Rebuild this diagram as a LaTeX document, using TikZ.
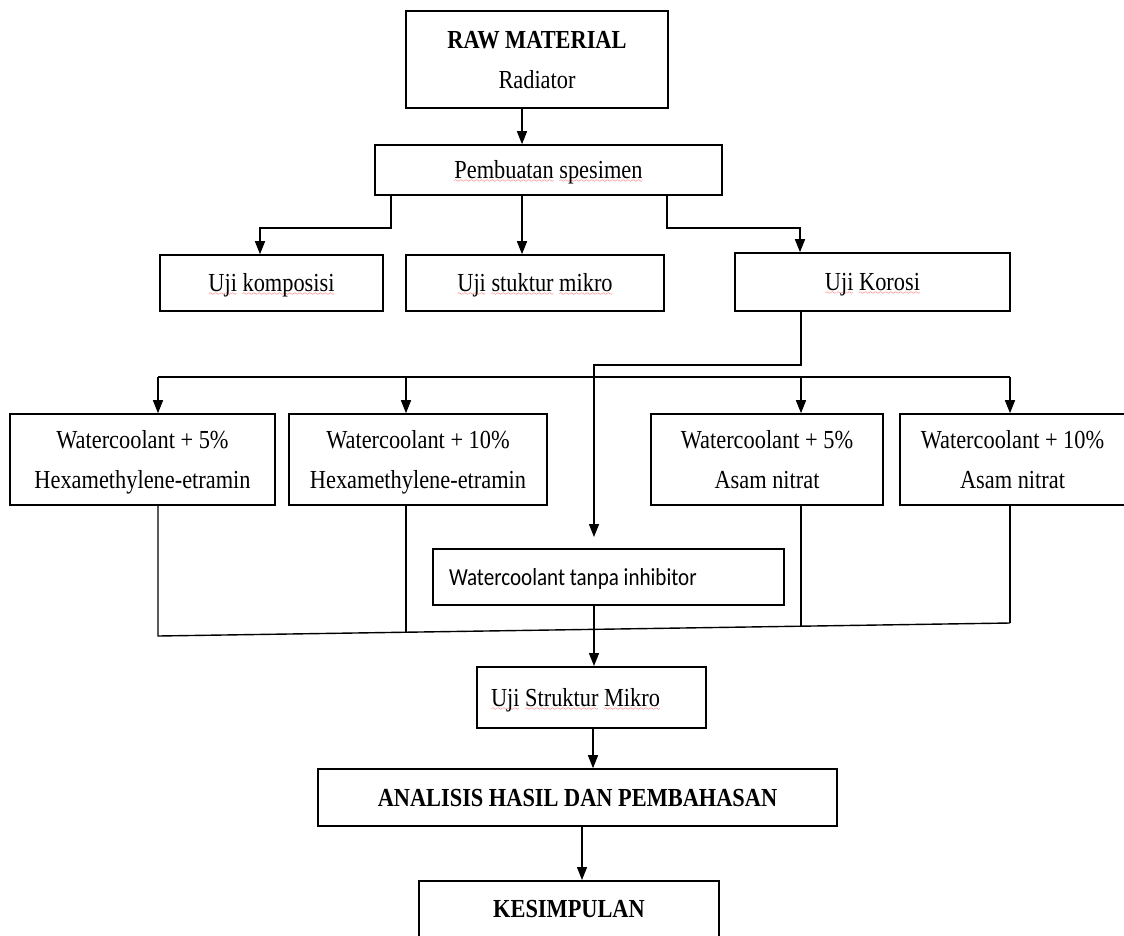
\documentclass[tikz,border=0pt]{standalone}
\usepackage{fontspec}
\setmainfont{Liberation Serif}[FakeStretch=0.86]
\newfontfamily\calib{Carlito}[FakeStretch=0.86]
\usetikzlibrary{arrows.meta}
\font\wavefont=lasy6
\newcommand\spell[1]{\setbox0\hbox{#1}\hbox{\rlap{\lower4pt\hbox to\wd0{\color{red}\xleaders\hbox{\wavefont\char58}\hfil}}\box0}}
\tikzset{
  txt/.style={font=\fontsize{26}{40}\selectfont},
  box/.style={txt, draw=black, line width=1.6pt, rectangle, inner sep=0pt, align=center,
    text height=17pt, text depth=0pt},
  box2/.style={box, text height=57pt},
  lbox/.style={box, align=flush left, inner xsep=16pt},
  conn/.style={draw=black, line width=1.4pt},
  arr/.style={conn, -{Triangle[length=13pt,width=10pt]}},
}
\begin{document}
\begin{tikzpicture}[x=1pt,y=-1pt]
\useasboundingbox (0,0) rectangle (1124,935);
\clip (0,0) rectangle (1124,935);
\fill[white] (0,0) rectangle (1124,935);

% nodes
\node[box2, minimum width=262pt, minimum height=97pt] (raw) at (537,59.5)
  {\textbf{RAW MATERIAL}\\Radiator};
\node[box, minimum width=347pt, minimum height=50pt] (pemb) at (548.5,170)
  {\spell{Pembuatan} \spell{spesimen}};
\node[box, minimum width=223pt, minimum height=56pt] (kom) at (271.5,283)
  {\spell{Uji} \spell{komposisi}};
\node[box, minimum width=258pt, minimum height=56pt] (stm) at (535,283)
  {\spell{Uji} \spell{stuktur} \spell{mikro}};
\node[box, minimum width=275pt, minimum height=58pt] (kor) at (872.5,282)
  {\spell{Uji} \spell{Korosi}};
\node[box2, minimum width=265pt, minimum height=91pt] (wc5h) at (142.5,459.5)
  {Watercoolant + 5\%\\Hexamethylene-etramin};
\node[box2, minimum width=258pt, minimum height=91pt] (wc10h) at (418,459.5)
  {Watercoolant + 10\%\\Hexamethylene-etramin};
\node[box2, minimum width=232pt, minimum height=91pt] (wc5a) at (767,459.5)
  {Watercoolant + 5\%\\Asam nitrat};
\node[box2, minimum width=225pt, minimum height=91pt] (wc10a) at (1012.5,459.5)
  {Watercoolant + 10\%\\Asam nitrat};
\node[lbox, line width=2pt, text width=319pt, minimum height=56pt, text height=16pt] (tanpa) at (608.5,577)
  {\calib\fontsize{24.5}{30}\selectfont Watercoolant tanpa inhibitor};
\node[lbox, line width=2pt, inner xsep=14pt, text width=201pt, minimum height=61pt] (usm) at (591.5,697.5)
  {\spell{Uji} \spell{Struktur} \spell{Mikro}};
\node[box, minimum width=519pt, minimum height=57pt] (ana) at (577.5,797.5)
  {\textbf{ANALISIS HASIL DAN PEMBAHASAN}};
\node[box, minimum width=300pt, minimum height=57pt, anchor=north] (kes) at (569,880)
  {\textbf{KESIMPULAN}};

% helper coordinates
\coordinate (c1) at (522,0);
\coordinate (b1) at (391,228);
\coordinate (b2) at (260,228);
\coordinate (b3) at (667,228);
\coordinate (b4) at (800,228);
\coordinate (k1) at (801,365);
\coordinate (k2) at (594,365);
\coordinate (k3) at (594,537);
\coordinate (h1) at (158,377);
\coordinate (h2) at (406,377);
\coordinate (h3) at (801,377);
\coordinate (h4) at (1010,377);
\coordinate (g1) at (158,636);
\coordinate (g2) at (406,632.9);
\coordinate (g3) at (801,626.4);
\coordinate (g4) at (1010,623);
\coordinate (a1) at (593,0);
\coordinate (a2) at (582,0);

% connectors
\draw[arr] (raw.south -| c1) -- (pemb.north -| c1);
\draw[arr] (pemb.south -| b1) -- (b1) -- (b2) -- (kom.north -| b2);
\draw[arr] (pemb.south -| c1) -- (stm.north -| c1);
\draw[arr] (pemb.south -| b3) -- (b3) -- (b4) -- (kor.north -| b4);
\draw[arr] (kor.south -| k1) -- (k1) -- (k2) -- (k3);

\draw[conn] (h1) -- (h4);
\draw[arr] (h1) -- (wc5h.north -| h1);
\draw[arr] (h2) -- (wc10h.north -| h2);
\draw[arr] (h3) -- (wc5a.north -| h3);
\draw[arr] (h4) -- (wc10a.north -| h4);

\draw[conn] (wc5h.south -| g1) -- (g1) -- (g4);
\draw[conn] (wc10h.south -| g2) -- (g2);
\draw[conn] (wc5a.south -| g3) -- (g3);
\draw[conn] (wc10a.south -| g4) -- (g4);

\draw[arr] (tanpa.south -| k2) -- (usm.north -| k2);
\draw[arr] (usm.south -| a1) -- (ana.north -| a1);
\draw[arr] (ana.south -| a2) -- (kes.north -| a2);
\end{tikzpicture}
\end{document}
